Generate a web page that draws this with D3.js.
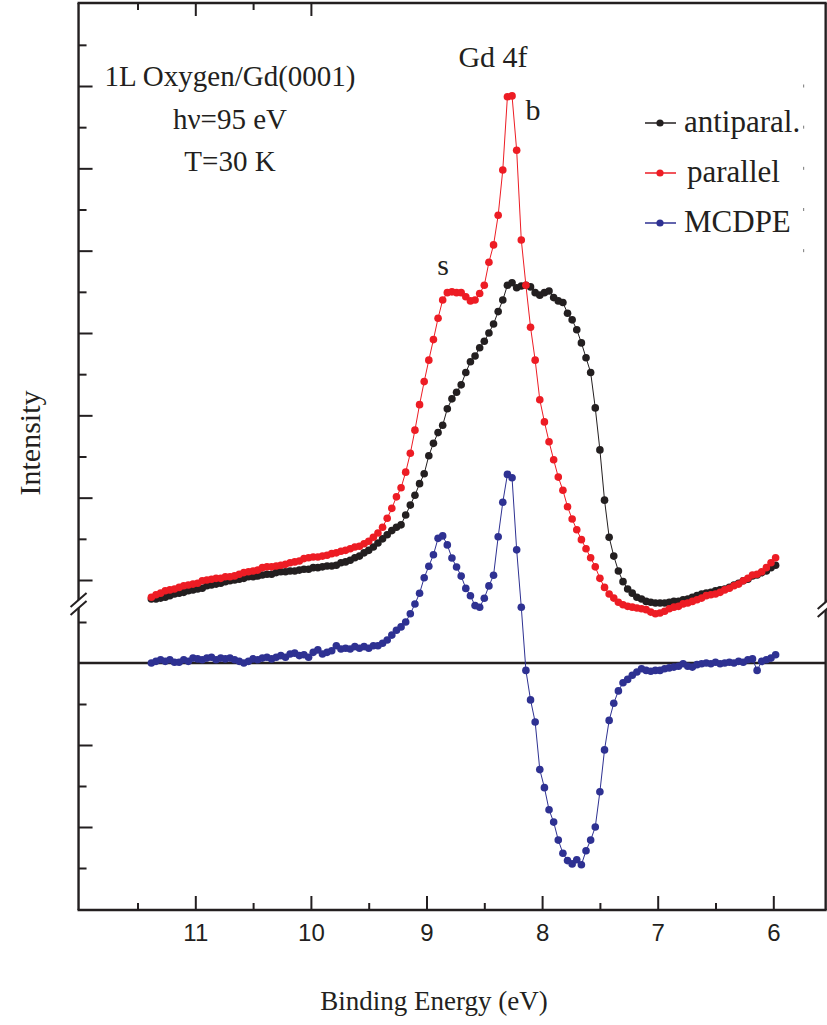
<!DOCTYPE html>
<html>
<head>
<meta charset="utf-8">
<script src="https://cdn.jsdelivr.net/npm/d3@7"></script>
<style>
body { margin: 0; background: #fff; }
svg { display: block; }
</style>
</head>
<body>
<script>
// binding energy grid (eV)
var energy = [11.38, 11.34, 11.30, 11.26, 11.22, 11.18, 11.14, 11.10, 11.06, 11.02,
  10.98, 10.94, 10.90, 10.86, 10.82, 10.78, 10.74, 10.70, 10.66, 10.62,
  10.58, 10.54, 10.50, 10.46, 10.42, 10.38, 10.34, 10.30, 10.26, 10.22,
  10.18, 10.14, 10.10, 10.06, 10.02, 9.98, 9.94, 9.90, 9.86, 9.82,
  9.78, 9.74, 9.70, 9.66, 9.62, 9.58, 9.54, 9.50, 9.46, 9.42,
  9.38, 9.34, 9.30, 9.26, 9.22, 9.18, 9.14, 9.10, 9.06, 9.02,
  8.98, 8.94, 8.90, 8.86, 8.82, 8.78, 8.74, 8.70, 8.66, 8.62,
  8.58, 8.54, 8.50, 8.46, 8.42, 8.38, 8.34, 8.30, 8.26, 8.22,
  8.18, 8.14, 8.10, 8.06, 8.02, 7.98, 7.94, 7.90, 7.86, 7.82,
  7.78, 7.74, 7.70, 7.66, 7.62, 7.58, 7.54, 7.50, 7.46, 7.42,
  7.38, 7.34, 7.30, 7.26, 7.22, 7.18, 7.14, 7.10, 7.06, 7.02,
  6.98, 6.94, 6.90, 6.86, 6.82, 6.78, 6.74, 6.70, 6.66, 6.62,
  6.58, 6.54, 6.50, 6.46, 6.42, 6.38, 6.34, 6.30, 6.26, 6.22,
  6.18, 6.14, 6.10, 6.06, 6.02, 5.98];

// upper panel, arbitrary units
var antiparallel = [7.7, 7.7, 7.8, 7.9, 8.1, 8.3, 8.4, 8.5, 8.7, 8.8,
  8.9, 9.0, 9.3, 9.4, 9.5, 9.6, 9.8, 9.9, 10.0, 10.1,
  10.2, 10.4, 10.4, 10.5, 10.6, 10.7, 10.7, 10.9, 11.0, 11.0,
  11.1, 11.1, 11.2, 11.3, 11.3, 11.5, 11.5, 11.6, 11.7, 11.7,
  11.8, 12.1, 12.2, 12.4, 12.7, 12.9, 13.3, 13.6, 14.0, 14.5,
  15.0, 15.5, 16.0, 16.4, 16.7, 17.9, 19.1, 20.3, 21.7, 22.9,
  25.1, 26.6, 27.9, 28.8, 30.8, 32.0, 32.8, 33.7, 35.2, 36.5,
  37.2, 38.2, 39.0, 40.0, 41.1, 42.6, 44.0, 45.8, 46.1, 45.5,
  45.7, 45.8, 45.6, 44.9, 44.6, 44.9, 45.1, 44.3, 43.9, 43.7,
  42.4, 41.6, 40.4, 38.8, 37.0, 35.2, 30.9, 25.8, 19.7, 15.2,
  12.9, 11.1, 9.8, 8.9, 8.4, 7.9, 7.7, 7.4, 7.3, 7.2,
  7.2, 7.2, 7.3, 7.4, 7.4, 7.6, 7.7, 7.9, 8.1, 8.3,
  8.4, 8.5, 8.7, 8.8, 8.9, 9.1, 9.4, 9.6, 9.9, 10.1,
  10.5, 10.6, 10.9, 11.1, 11.5, 11.8];

var parallel = [7.9, 8.2, 8.4, 8.7, 8.8, 8.9, 9.1, 9.3, 9.4, 9.5,
  9.6, 9.9, 10.0, 10.1, 10.2, 10.2, 10.4, 10.4, 10.5, 10.7,
  10.9, 11.0, 11.1, 11.2, 11.5, 11.6, 11.6, 11.7, 11.8, 11.9,
  12.1, 12.2, 12.3, 12.6, 12.7, 12.8, 12.8, 12.9, 13.0, 13.2,
  13.3, 13.5, 13.6, 13.8, 14.0, 14.1, 14.4, 14.7, 15.2, 15.7,
  16.4, 17.5, 18.7, 20.1, 21.2, 23.1, 25.4, 28.2, 31.3, 34.1,
  36.7, 39.2, 41.8, 44.0, 44.9, 45.0, 44.9, 44.9, 44.4, 43.9,
  44.0, 44.8, 45.8, 48.6, 50.7, 54.3, 59.8, 68.7, 68.8, 62.2,
  51.3, 45.8, 40.7, 36.7, 31.9, 29.2, 26.8, 24.6, 22.5, 20.9,
  18.9, 17.4, 16.1, 14.9, 13.8, 12.7, 11.6, 10.2, 9.1, 8.3,
  7.8, 7.3, 7.0, 6.8, 6.7, 6.6, 6.5, 6.4, 6.1, 5.9,
  6.0, 6.2, 6.5, 6.7, 6.8, 7.1, 7.2, 7.4, 7.6, 7.8,
  8.1, 8.2, 8.3, 8.5, 8.8, 9.0, 9.3, 9.5, 9.9, 10.2,
  10.6, 10.7, 11.0, 11.5, 12.1, 12.7];

// lower panel, difference signal
var mcdpe = [0.0, 0.2, 0.4, 0.2, 0.4, 0.1, 0.1, 0.4, 0.2, 0.6,
  0.5, 0.4, 0.6, 0.7, 0.4, 0.6, 0.5, 0.6, 0.4, 0.2,
  0.0, 0.2, 0.5, 0.4, 0.6, 0.7, 0.5, 0.7, 0.9, 0.7,
  1.1, 1.2, 0.9, 1.0, 0.7, 1.3, 1.6, 1.1, 1.3, 1.5,
  2.1, 1.7, 1.8, 1.7, 2.0, 1.8, 2.0, 1.8, 2.1, 2.1,
  2.4, 2.8, 3.4, 4.0, 4.4, 5.0, 6.0, 7.2, 8.5, 10.4,
  11.8, 13.2, 15.2, 15.5, 14.4, 12.8, 11.7, 10.6, 9.1, 8.2,
  7.0, 6.8, 7.9, 9.4, 10.7, 15.4, 19.6, 23.0, 22.6, 13.8,
  6.8, -0.9, -4.5, -7.2, -13.0, -15.2, -17.9, -19.4, -21.6, -23.2,
  -24.1, -24.5, -24.0, -24.6, -22.9, -21.6, -20.0, -15.7, -10.6, -7.0,
  -4.9, -3.4, -2.4, -2.0, -1.5, -1.1, -0.7, -0.9, -1.0, -0.9,
  -0.9, -0.7, -0.6, -0.5, -0.4, -0.1, -0.4, -0.5, -0.2, -0.1,
  0.0, -0.1, 0.1, -0.1, 0.0, 0.1, 0.0, 0.2, 0.1, 0.4,
  0.5, -0.9, 0.2, 0.4, 0.6, 1.0];

var xTicks = [11, 10, 9, 8, 7, 6];
var xMinor = [11.5, 10.5, 9.5, 8.5, 7.5, 6.5];
var topTicks = [11, 10];
var topMinor = [11.5, 10.5];
var upTicks = [10, 20, 30, 40, 50, 60, 70];
var upMinor = [15, 25, 35, 45, 55, 65, 75];
var loTicks = [-10, -20];
var loMinor = [5, -5, -15, -25];
var rightMarks = [70, 65, 60, 55, 50];
var infoLines = ['1L Oxygen/Gd(0001)', 'h\u03bd=95 eV', 'T=30 K'];

var ink = '#231F20';
var series = [
  {name: 'antiparal.', values: antiparallel, color: '#231F20', scale: 'up'},
  {name: 'parallel', values: parallel, color: '#ED1C24', scale: 'up'},
  {name: 'MCDPE', values: mcdpe, color: '#2E3192', scale: 'lo'}
];

var svg = d3.select('body').append('svg')
    .attr('width', 827)
    .attr('height', 1025);

var x = d3.scaleLinear().domain([11, 6]).range([195.3, 773.3]);
var yUp = d3.scaleLinear().domain([10, 70]).range([580, 86]);
var yLo = d3.scaleLinear().domain([0, -20]).range([663, 827]);

var boxL = x(12.01), boxR = x(5.547), boxT = 3, boxB = 910;
var serif = "'Liberation Serif', 'Times New Roman', serif";
var sans = "'Liberation Sans', Arial, sans-serif";

function styleAxis(g, w) {
  g.select('.domain').remove();
  g.selectAll('.tick line').attr('stroke', ink).attr('stroke-width', w);
  g.selectAll('.tick text').attr('fill', ink).style('font-family', sans).style('font-size', '24px');
}

// bottom axis
svg.append('g').attr('transform', 'translate(0,' + boxB + ')')
    .call(d3.axisBottom(x).tickValues(xTicks).tickSize(-14).tickPadding(14).tickFormat(d3.format('d')))
    .call(styleAxis, 2);
svg.append('g').attr('transform', 'translate(0,' + boxB + ')')
    .call(d3.axisBottom(x).tickValues(xMinor).tickSize(-7).tickFormat(''))
    .call(styleAxis, 2);

// top axis (only the left part carries ticks)
svg.append('g').attr('transform', 'translate(0,' + boxT + ')')
    .call(d3.axisTop(x).tickValues(topTicks).tickSize(-13).tickFormat(''))
    .call(styleAxis, 2);
svg.append('g').attr('transform', 'translate(0,' + boxT + ')')
    .call(d3.axisTop(x).tickValues(topMinor).tickSize(-7).tickFormat(''))
    .call(styleAxis, 2);

// left axis, upper and lower panels
svg.append('g').attr('transform', 'translate(' + boxL + ',0)')
    .call(d3.axisLeft(yUp).tickValues(upTicks).tickSize(-14).tickFormat(''))
    .call(styleAxis, 2);
svg.append('g').attr('transform', 'translate(' + boxL + ',0)')
    .call(d3.axisLeft(yUp).tickValues(upMinor).tickSize(-8).tickFormat(''))
    .call(styleAxis, 2);
svg.append('g').attr('transform', 'translate(' + boxL + ',0)')
    .call(d3.axisLeft(yLo).tickValues(loTicks).tickSize(-14).tickFormat(''))
    .call(styleAxis, 2);
svg.append('g').attr('transform', 'translate(' + boxL + ',0)')
    .call(d3.axisLeft(yLo).tickValues(loMinor).tickSize(-8).tickFormat(''))
    .call(styleAxis, 2);

// faint remnants of right-side ticks
svg.append('g').selectAll('line').data(rightMarks).join('line')
    .attr('x1', boxR - 22).attr('x2', boxR - 22)
    .attr('y1', function(d) { return yUp(d) - 1.5; })
    .attr('y2', function(d) { return yUp(d) + 1.5; })
    .attr('stroke', '#777').attr('stroke-width', 1);

// frame with axis breaks
var frame = svg.append('g').attr('stroke', ink).attr('stroke-width', 2.4).attr('fill', 'none');
frame.append('line').attr('x1', boxL - 1).attr('x2', boxR + 1).attr('y1', boxT).attr('y2', boxT);
frame.append('line').attr('x1', boxL - 1).attr('x2', boxR + 1).attr('y1', boxB).attr('y2', boxB);
frame.append('line').attr('x1', boxL).attr('x2', boxL).attr('y1', boxT).attr('y2', 600);
frame.append('line').attr('x1', boxL).attr('x2', boxL).attr('y1', 608).attr('y2', boxB);
frame.append('line').attr('x1', boxR).attr('x2', boxR).attr('y1', boxT).attr('y2', 602);
frame.append('line').attr('x1', boxR).attr('x2', boxR).attr('y1', 610).attr('y2', boxB);
var slashes = svg.append('g').attr('stroke', ink).attr('stroke-width', 2);
[[boxL, 600], [boxL, 608], [boxR, 602], [boxR, 610]].forEach(function(p) {
  slashes.append('line')
      .attr('x1', p[0] - 8).attr('y1', p[1] + 7)
      .attr('x2', p[0] + 8).attr('y2', p[1] - 7);
});

// zero line for the MCDPE panel
svg.append('line')
    .attr('x1', boxL).attr('x2', boxR)
    .attr('y1', yLo(0)).attr('y2', yLo(0))
    .attr('stroke', ink).attr('stroke-width', 2.6);

// data
series.forEach(function(s) {
  var ys = s.scale === 'up' ? yUp : yLo;
  var pts = energy.map(function(e, i) { return [e, s.values[i]]; });
  var line = d3.line().x(function(d) { return x(d[0]); }).y(function(d) { return ys(d[1]); });
  var g = svg.append('g');
  g.append('path').attr('d', line(pts)).attr('fill', 'none').attr('stroke', s.color).attr('stroke-width', 1);
  g.selectAll('circle').data(pts).join('circle')
      .attr('cx', function(d) { return x(d[0]); })
      .attr('cy', function(d) { return ys(d[1]); })
      .attr('r', 3.8)
      .attr('fill', s.color);
});

// legend
var legend = svg.append('g');
series.forEach(function(s, i) {
  var cy = 123 + i * 50;
  legend.append('line').attr('x1', 645).attr('x2', 676).attr('y1', cy).attr('y2', cy)
      .attr('stroke', s.color).attr('stroke-width', 1.5);
  legend.append('circle').attr('cx', 660).attr('cy', cy).attr('r', 3.6).attr('fill', s.color);
  legend.append('text').attr('x', i === 1 ? 687 : 684).attr('y', cy + 9)
      .style('font-family', serif).style('font-size', '31px').attr('fill', ink)
      .text(s.name);
});

// annotations
svg.append('g').selectAll('text').data(infoLines).join('text')
    .attr('x', 230)
    .attr('y', function(d, i) { return 86 + i * 42.5; })
    .attr('text-anchor', 'middle')
    .style('font-family', serif).style('font-size', '29px').attr('fill', ink)
    .text(function(d) { return d; });

function label(txt, lx, ly, size) {
  svg.append('text').attr('x', lx).attr('y', ly).attr('text-anchor', 'middle')
      .style('font-family', serif).style('font-size', size + 'px').attr('fill', ink)
      .text(txt);
}
label('Gd 4f', 493, 67, 30);
label('b', 533, 120, 30);
label('s', 443, 275, 30);

// axis titles
label('Binding Energy (eV)', 434, 1010, 27);
svg.append('text')
    .attr('transform', 'translate(40,443) rotate(-90)')
    .attr('text-anchor', 'middle')
    .style('font-family', serif).style('font-size', '30px').attr('fill', ink)
    .text('Intensity');
</script>
</body>
</html>
